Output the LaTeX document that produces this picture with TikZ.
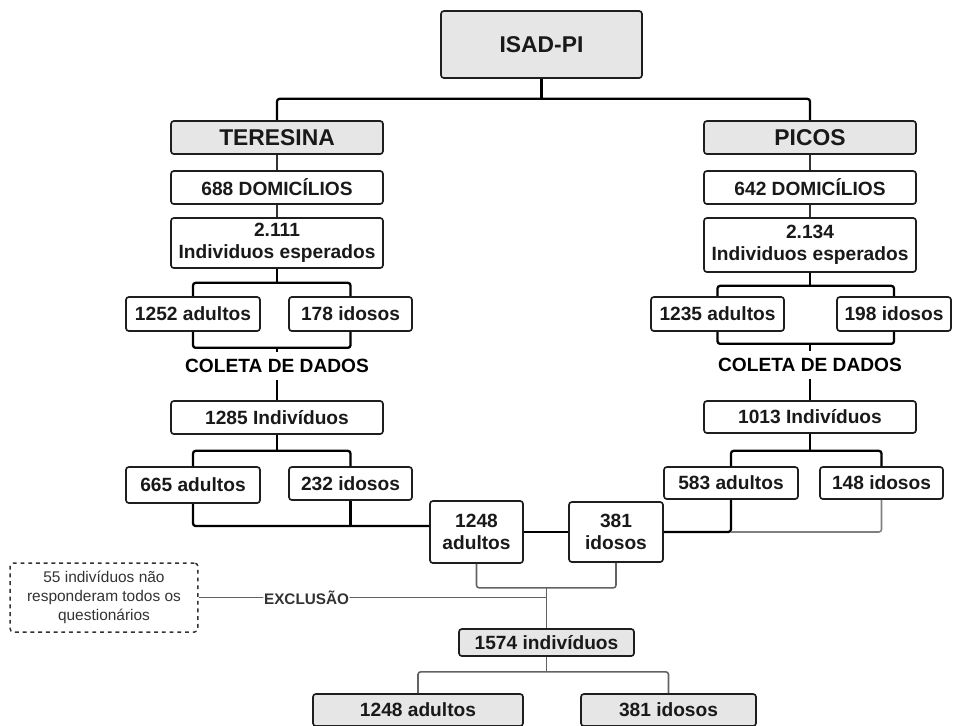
\documentclass[tikz,border=0pt]{standalone}
\usepackage{fontspec}
\setmainfont{Liberation Sans}
\usepackage{tikz}
\definecolor{cinzafundo}{HTML}{E6E6E6}
\definecolor{borda}{HTML}{1E1E1E}
\definecolor{linhacinza}{HTML}{626262}
\definecolor{textocinza}{HTML}{333333}
\tikzset{
  caixa/.style={draw=borda, line width=0.95pt, rounded corners=1.6pt, fill=white,
    inner sep=0pt, align=center, text=black!90, font=\fontsize{10.9}{12.8}\selectfont\bfseries},
  caixacinza/.style={caixa, fill=cinzafundo},
  titulo/.style={caixacinza, font=\fontsize{13}{15}\selectfont\bfseries},
  etapa/.style={inner sep=0pt, minimum height=0.56cm, font=\fontsize{10.9}{12.6}\selectfont\bfseries},
  nota/.style={draw=textocinza, line width=0.85pt, dash pattern=on 2.2pt off 2.2pt, rounded corners=2pt,
    inner sep=0pt, align=center, text=textocinza, font=\fontsize{8.8}{10.6}\selectfont},
  rotulo/.style={fill=white, inner sep=0.4pt, text=textocinza, font=\fontsize{8.7}{10}\selectfont\bfseries},
  liga/.style={line width=1.3pt, black, rounded corners=1.5pt},
  ligafina/.style={line width=0.8pt, black!80},
  ligacinza/.style={line width=0.9pt, linhacinza, rounded corners=1.5pt},
  ligaclara/.style={line width=0.9pt, black!50, rounded corners=1.5pt}
}

\begin{document}
\begin{tikzpicture}[x=0.02cm, y=-0.02cm]
  \useasboundingbox (0,0) rectangle (953,725);

  \node[titulo, minimum width=4.02cm, minimum height=1.34cm] (isad) at (541.5,44.5) {ISAD-PI};

  \node[titulo, minimum width=4.24cm, minimum height=0.66cm] (ter) at (277,137.5) {TERESINA};
  \node[titulo, minimum width=4.24cm, minimum height=0.66cm] (pic) at (810,137.5) {PICOS};

  \node[caixa, minimum width=4.24cm, minimum height=0.66cm] (dom1) at (277,187.5) {688 DOMICÍLIOS};
  \node[caixa, minimum width=4.24cm, minimum height=0.66cm] (dom2) at (810,187.5) {642 DOMICÍLIOS};

  \node[caixa, minimum width=4.24cm, minimum height=1.0cm] (esp1) at (277,243) {2.111\\Individuos esperados};
  \node[caixa, minimum width=4.24cm, minimum height=1.08cm] (esp2) at (810,245) {2.134\\Individuos esperados};

  \node[caixa, minimum width=2.68cm, minimum height=0.68cm] (ad1) at (193,314) {1252 adultos};
  \node[caixa, minimum width=2.46cm, minimum height=0.68cm] (id1) at (350.5,314) {178 idosos};
  \node[caixa, minimum width=2.66cm, minimum height=0.68cm] (ad2) at (717.5,314) {1235 adultos};
  \node[caixa, minimum width=2.28cm, minimum height=0.68cm] (id2) at (894,314) {198 idosos};

  \node[etapa] (col1) at (277,366) {COLETA DE DADOS};
  \node[etapa] (col2) at (810,365) {COLETA DE DADOS};

  \node[caixa, minimum width=4.24cm, minimum height=0.66cm] (ind1) at (277,417.5) {1285 Indivíduos};
  \node[caixa, minimum width=4.24cm, minimum height=0.64cm] (ind2) at (810,417) {1013 Indivíduos};

  \node[caixa, minimum width=2.68cm, minimum height=0.72cm] (ad3) at (193,485) {665 adultos};
  \node[caixa, minimum width=2.46cm, minimum height=0.66cm] (id3) at (350.5,483.5) {232 idosos};
  \node[caixa, minimum width=2.68cm, minimum height=0.64cm] (ad4) at (731,483) {583 adultos};
  \node[caixa, minimum width=2.46cm, minimum height=0.64cm] (id4) at (881.5,483) {148 idosos};

  \node[caixa, minimum width=1.86cm, minimum height=1.24cm] (tad) at (476.5,532) {1248\\adultos};
  \node[caixa, minimum width=1.88cm, minimum height=1.2cm] (tid) at (616,532) {381\\idosos};

  \node[nota, minimum width=3.76cm, minimum height=1.38cm] (exc) at (104,597.5) {55 indivíduos não\\responderam todos os\\questionários};

  \node[caixacinza, minimum width=3.5cm, minimum height=0.54cm] (tot) at (546.5,642.5) {1574 indivíduos};

  \node[caixacinza, minimum width=4.2cm, minimum height=0.64cm] (fad) at (418,710) {1248 adultos};
  \node[caixacinza, minimum width=3.5cm, minimum height=0.64cm] (fid) at (668.5,710) {381 idosos};

  % topo
  \draw[liga] (isad.south) -- ++(0,20) coordinate (j0);
  \draw[liga] (ter.north) |- (j0) -| (pic.north);

  % teresina
  \draw[ligafina] (ter.south) -- (dom1.north);
  \draw[ligafina] (dom1.south) -- (esp1.north);
  \draw[liga] (esp1.south) -- ++(0,14) coordinate (j1);
  \draw[liga] (ad1.north) |- (j1) -| (id1.north);
  \draw[liga] (ad1.south) -- ++(0,16) coordinate (k1) -| (id1.south);
  \draw[liga] (col1.north) -- (col1.north |- k1);
  \draw[liga] (col1.south) -- (ind1.north);
  \draw[liga] (ind1.south) -- ++(0,16) coordinate (m1);
  \draw[liga] (ad3.north) |- (m1) -| (id3.north);

  % picos
  \draw[ligafina] (pic.south) -- (dom2.north);
  \draw[ligafina] (dom2.south) -- (esp2.north);
  \draw[liga] (esp2.south) -- ++(0,13) coordinate (j2);
  \draw[liga] (ad2.north) |- (j2) -| (id2.north);
  \draw[liga] (ad2.south) -- ++(0,12) coordinate (k2) -| (id2.south);
  \draw[liga] (col2.north) -- (col2.north |- k2);
  \draw[liga] (col2.south) -- (ind2.north);
  \draw[liga] (ind2.south) -- ++(0,17) coordinate (m2);
  \draw[liga] (ad4.north) |- (m2) -| (id4.north);

  % juncao
  \path ([yshift=3.4pt]tad.west) coordinate (e1);
  \draw[liga] (ad3.south) |- (e1);
  \draw[liga] (id3.south) -- (id3.south |- e1);
  \draw[liga] (tad.east) -- (tid.west);
  \draw[liga] (tid.east) -| (ad4.south);
  \draw[ligaclara] (id4.south) |- (ad4.south |- tid.east);

  % final
  \draw[ligacinza] (tad.south) -- ++(0,24) coordinate (j3) -| (tid.south);
  \draw[ligacinza] (tot.north) -- (tot.north |- j3);
  \draw[ligacinza] (exc.east) -- node[rotulo, pos=0.31] {EXCLUSÃO} (exc.east -| tot.north);
  \draw[ligacinza] (tot.south) -- ++(0,15) coordinate (j4);
  \draw[ligacinza] (fad.north) |- (j4) -| (fid.north);
\end{tikzpicture}
\end{document}
